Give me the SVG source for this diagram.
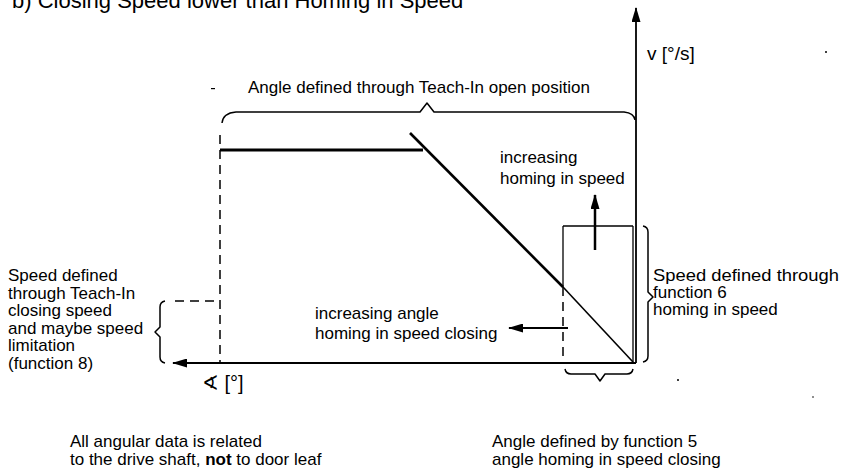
<svg xmlns="http://www.w3.org/2000/svg" width="843" height="474" viewBox="0 0 843 474">
<style>
text{font-family:"Liberation Sans",Arial,sans-serif;fill:#000}
.lbl{font-size:17px}
.ln{stroke:#000;fill:none}
.dash{stroke:#000;fill:none;stroke-width:1.5;stroke-dasharray:9,6}
.br{stroke:#000;fill:none;stroke-width:1.5;stroke-linejoin:round}
.spk{fill:#000}
</style>
<defs>
<marker id="ah" markerWidth="15" markerHeight="9" refX="14" refY="4.5" orient="auto" markerUnits="userSpaceOnUse">
<path d="M0,0 L15,4.5 L0,9 Z" fill="#000"/>
</marker>
</defs>
<rect width="843" height="474" fill="#fff"/>
<text x="12" y="8" style="font-size:22px">b) Closing Speed lower than Homing in Speed</text>
<g id="connectors">
<line class="ln" x1="636" y1="363" x2="636" y2="8" stroke-width="1.8" marker-end="url(#ah)"/>
<line class="ln" x1="636" y1="363" x2="173" y2="363" stroke-width="1.8" marker-end="url(#ah)"/>
<line class="ln" x1="220" y1="150" x2="423" y2="150" stroke-width="3"/>
<line class="ln" x1="410" y1="133" x2="563" y2="287" stroke-width="2.6"/>
<line class="ln" x1="563" y1="287" x2="633" y2="362" stroke-width="1.6"/>
<line class="dash" x1="220" y1="135" x2="220" y2="363"/>
<line class="dash" x1="175" y1="301" x2="220" y2="301"/>
<line class="ln" x1="563" y1="287" x2="563" y2="226" stroke-width="1.3"/>
<line class="ln" x1="563" y1="226" x2="633" y2="226" stroke-width="1.3"/>
<line class="ln" x1="633" y1="226" x2="633" y2="362" stroke-width="1.3"/>
<line class="dash" x1="563" y1="287" x2="563" y2="363"/>
<line class="ln" x1="595" y1="250" x2="595" y2="195" stroke-width="2.5" marker-end="url(#ah)"/>
<line class="ln" x1="568" y1="328" x2="509" y2="328" stroke-width="1.8" marker-end="url(#ah)"/>
</g>
<g id="brace-top">
<path class="br" d="M222,123 Q223,113 236,112 L420,112 L427,103 L434,112 L624,112 Q634,113 635,120"/>
<text class="lbl" x="248" y="93">Angle defined through Teach-In open position</text>
</g>
<g id="axis-v">
<text x="647" y="60" style="font-size:19px">v [°/s]</text>
</g>
<g id="axis-angle">
<text x="202" y="390" style="font-size:20px">∢ [°]</text>
</g>
<g id="brace-left">
<path class="br" d="M165,301 Q160,302 160,307 L160,327 L155,332 L160,337 L160,357 Q160,362 165,363"/>
<text class="lbl" x="8" y="281">Speed defined</text>
<text class="lbl" x="8" y="299">through Teach-In</text>
<text class="lbl" x="8" y="316">closing speed</text>
<text class="lbl" x="8" y="334">and maybe speed</text>
<text class="lbl" x="8" y="351">limitation</text>
<text class="lbl" x="8" y="369">(function 8)</text>
</g>
<g id="brace-right">
<path class="br" d="M643,226 Q648,227 648,232 L648,292 L653,297 L648,302 L648,356 Q648,361 643,362"/>
<text class="lbl" x="653" y="281" textLength="186" lengthAdjust="spacingAndGlyphs">Speed defined through</text>
<text class="lbl" x="653" y="298">function 6</text>
<text class="lbl" x="653" y="315">homing in speed</text>
</g>
<g id="label-homing">
<text class="lbl" x="500" y="163">increasing</text>
<text class="lbl" x="500" y="184">homing in speed</text>
</g>
<g id="label-angle">
<text class="lbl" x="315" y="319">increasing angle</text>
<text class="lbl" x="315" y="339">homing in speed closing</text>
</g>
<g id="brace-bottom">
<path class="br" d="M565,369 Q566,374 571,374 L595,374 L600,381 L605,374 L627,374 Q632,374 633,369"/>
</g>
<g id="note-left">
<text class="lbl" x="70" y="447">All angular data is related</text>
<text class="lbl" x="70" y="465">to the drive shaft, <tspan font-weight="bold">not</tspan> to door leaf</text>
</g>
<g id="note-right">
<text class="lbl" x="492" y="447">Angle defined by function 5</text>
<text class="lbl" x="492" y="465">angle homing in speed closing</text>
</g>
<g id="specks">
<circle class="spk" cx="826" cy="52" r="1"/>
<rect class="spk" x="211" y="88" width="4" height="1.2"/>
<circle class="spk" cx="678" cy="380" r="1"/>
<circle class="spk" cx="813" cy="397" r="0.8"/>
</g>
</svg>
